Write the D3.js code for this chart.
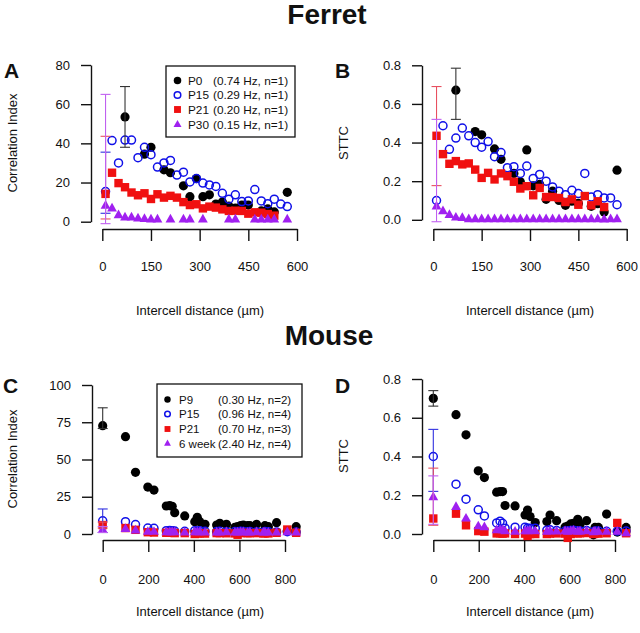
<!DOCTYPE html>
<html>
<head>
<meta charset="utf-8">
<script src="https://cdn.jsdelivr.net/npm/d3@7"></script>
<style>
  body { margin: 0; background: #fff; }
  svg text { font-family: "Liberation Sans", Arial, Helvetica, sans-serif; fill: #111; }
</style>
</head>
<body>
<svg width="640" height="633"></svg>
<script>
// ---- Data ----
var ferretDist = [10, 30, 50, 70, 90, 110, 130, 150, 170, 190, 210, 230, 250, 270, 290,
                  310, 330, 350, 370, 390, 410, 430, 450, 470, 490, 510, 530, 550, 570];
var ferretGroups = ["P0", "P15", "P21", "P30"];
var ferretInfo = ["(0.74 Hz, n=1)", "(0.29 Hz, n=1)", "(0.20 Hz, n=1)", "(0.15 Hz, n=1)"];

// panel A: correlation index
var ferretCI_P0  = [null, null, null, 53.5, null, null, 34.5, 38, null, 26.5, 25, null, 18.3, 12.8, 22,
                    12.8, 13.7, 9, 10, 8, 7, 8.5, 8.5, null, 5.5, 6.5, 5, null, 15];
var ferretCI_P15 = [15.4, 41.4, 30, 41.7, 41.7, 32.7, 38, 34.2, 27.9, 30, 31.3, 23.8, 25.3, 20.3, 22,
                    19.7, 18.8, 18, 14.5, 11.5, 13.7, 10.3, 10.6, 16.4, 10.6, 9.2, 11.5, 9, 7.7];
var ferretCI_P21 = [14.2, 25, 19.7, 17.6, 14.9, 13.5, 14.5, 11.6, 14, 12.3, 13.2, 12.3, 10, 8.5, 8.9,
                    6.8, 7.7, 7.2, 6.3, 5.5, 5.6, 5.5, 4.1, 4.8, 4.6, 3.9, 3.1, null, null];
var ferretCI_P30 = [8.2, 6.8, 3.4, 2.2, 2.2, 1.7, 1.4, 1.2, 1.2, null, 1.2, null, 1.2, 1.2, null,
                    1.2, null, null, null, 1.2, 1.2, null, null, 1.2, 1.2, 1.2, 1.2, null, 1.2];

// panel B: STTC
var ferretSTTC_P0  = [null, null, null, 0.671, null, null, 0.457, 0.44, null, 0.367, 0.313, null, 0.24, 0.197, 0.362,
                      0.176, 0.183, 0.106, 0.148, 0.1, 0.075, 0.096, 0.085, null, 0.07, 0.083, 0.04, null, 0.257];
var ferretSTTC_P15 = [0.10, 0.487, 0.365, 0.423, 0.475, 0.435, 0.40, 0.376, 0.405, 0.327, 0.348, 0.27, 0.275, 0.24, 0.278,
                      0.214, 0.235, 0.2, 0.17, 0.148, 0.13, 0.153, 0.136, 0.24, 0.118, 0.13, 0.113, 0.113, 0.078];
var ferretSTTC_P21 = [0.435, 0.34, 0.29, 0.304, 0.287, 0.292, 0.26, 0.217, 0.243, 0.209, 0.24, 0.226, 0.197, 0.162, 0.174,
                      0.127, 0.165, 0.118, 0.118, 0.113, 0.092, 0.106, 0.078, 0.123, 0.075, 0.096, 0.066, null, null];
var ferretSTTC_P30 = [0.07, 0.045, 0.025, 0.012, 0.01, 0.004, 0.003, 0.003, 0.003, 0.003, 0.003, 0.003, 0.003, 0.003, 0.003,
                      0.003, 0.003, 0.003, 0.003, 0.003, 0.003, 0.003, 0.003, 0.003, 0.003, 0.003, 0.002, 0.003, 0.003];

var mouseDist = [0, 100, 144, 198, 225, 279, 294, 305, 316, 360, 404, 415, 426, 449, 500,
                 514, 543, 580, 592, 605, 617, 636, 646, 675, 705, 712, 727, 763, 810, 849];
var mouseGroups = ["P9", "P15", "P21", "6 week"];
var mouseInfo = ["(0.30 Hz, n=2)", "(0.96 Hz, n=4)", "(0.70 Hz, n=3)", "(2.40 Hz, n=4)"];

// panel C: correlation index
var mouseCI_P9  = [72.7, 65.3, 41.4, 31.5, 29.5, 18.8, 19.0, 18.6, 14.3, 12.1, 8.3, 11.2, 8.3, 6.5, 6.0,
                   7.2, 6.5, 4.5, 5.0, 5.6, 6.0, 5.6, 5.6, 6.5, 1.5, 5.6, 4.9, 7.6, 2.0, 4.9];
var mouseCI_P15 = [8.9, 8.3, 6.3, 4.0, 3.8, 2.2, 2.4, 2.2, 2.0, 1.8, 2.2, 2.0, 2.2, 1.8, 1.6,
                   1.8, 1.5, 1.6, 1.4, 1.8, 1.6, 1.5, 1.7, 1.5, 1.2, 1.6, 1.5, 1.4, 1.5, 1.3];
var mouseCI_P21 = [6.0, 4.0, 2.8, 1.2, 1.0, 0.8, 0.8, 0.8, 0.6, 0.6, 0.0, 0.3, 0.5, 0.3, 0.6,
                   0.6, 0.5, 0.4, -0.5, 0.6, 0.8, 0.5, 0.6, 0.6, 0.4, 0.5, 0.4, 0.8, 3.0, 0.8];
var mouseCI_6wk = [3.0, 3.5, 2.5, 1.5, 1.5, 1.2, 1.2, 1.3, 1.2, 1.0, 1.2, 1.3, 1.2, 1.0, 1.1,
                   1.0, 1.2, 1.0, 1.1, 1.3, 1.2, 1.0, 1.1, 1.2, 1.0, 1.1, 1.0, 1.0, 1.2, 1.0];

// panel D: STTC
var mouseSTTC_P9  = [0.70, 0.616, 0.512, 0.326, 0.291, 0.216, 0.219, 0.219, 0.147, 0.145, 0.098, 0.124, 0.09, 0.059, 0.064,
                     0.098, 0.069, 0.035, 0.041, 0.052, 0.055, 0.076, 0.05, 0.069, -0.004, 0.034, 0.034, 0.103, 0.01, 0.034];
var mouseSTTC_P15 = [0.40, 0.257, 0.18, 0.125, 0.093, 0.057, 0.066, 0.055, 0.03, 0.035, 0.035, 0.03, 0.03, 0.03, 0.02,
                     0.022, 0.018, 0.015, 0.016, 0.018, 0.02, 0.017, 0.016, 0.018, 0.012, 0.015, 0.016, 0.014, 0.015, 0.015];
var mouseSTTC_P21 = [0.08, 0.105, 0.045, 0.015, 0.012, 0.003, 0.004, 0.002, 0.003, 0.0, 0.002, -0.01, 0.0, 0.0, 0.0,
                     0.002, 0.003, 0.002, -0.02, 0.0, 0.005, 0.003, 0.004, 0.005, 0.0, 0.003, 0.002, 0.004, 0.057, 0.004];
var mouseSTTC_6wk = [0.19, 0.14, 0.08, 0.04, 0.035, 0.02, 0.022, 0.02, 0.015, 0.012, 0.015, 0.015, 0.018, 0.015, 0.012,
                     0.015, 0.013, 0.015, 0.012, 0.015, 0.018, 0.012, 0.014, 0.015, 0.01, 0.012, 0.012, 0.012, 0.012, 0.005];

// error bars: group index, distance, low, high
var errA = [[0, 70, 38, 69], [1, 10, 4.3, 35.5], [2, 10, 1.4, 43.6], [3, 10, -1, 65]];
var errB = [[0, 70, 0.52, 0.785], [2, 10, 0.177, 0.69], [3, 10, -0.01, 0.52]];
var errC = [[0, 0, 70.8, 84.7], [1, 0, 1, 16.8], [2, 0, 4, 8], [3, 0, 1, 5]];
var errD = [[0, 0, 0.66, 0.74], [1, 0, 0.22, 0.54], [2, 0, 0.045, 0.34], [3, 0, 0.05, 0.30]];

var ferretTicksX = [0, 150, 300, 450, 600];
var mouseTicksX = [0, 200, 400, 600, 800];
var ciTicksA = [0, 20, 40, 60, 80];
var ciTicksC = [0, 25, 50, 75, 100];
var sttcTicks = [0, 0.2, 0.4, 0.6, 0.8];

// ---- Styling ----
var colors = ["#000000", "#1010e8", "#f01010", "#a020f0"];
var errColors = ["#333333", "#3030e0", "#e85060", "#c060f0"];
var shapes = ["dot", "ring", "square", "tri"];

var svg = d3.select("svg");

// Titles
svg.append("text").attr("x", 327).attr("y", 24).attr("text-anchor", "middle")
    .attr("font-size", 28).attr("font-weight", "bold").text("Ferret");
svg.append("text").attr("x", 329).attr("y", 345).attr("text-anchor", "middle")
    .attr("font-size", 28).attr("font-weight", "bold").text("Mouse");

function mark(g, type, cx, cy, s, color) {
  if (type == "dot") {
    g.append("circle").attr("cx", cx).attr("cy", cy).attr("r", 4.6 * s).attr("fill", color);
  } else if (type == "ring") {
    g.append("circle").attr("cx", cx).attr("cy", cy).attr("r", 4.0 * s)
        .attr("fill", "none").attr("stroke", color).attr("stroke-width", 1.5);
  } else if (type == "square") {
    var h = 4.2 * s;
    g.append("rect").attr("x", cx - h).attr("y", cy - h).attr("width", 2 * h).attr("height", 2 * h)
        .attr("fill", color);
  } else {
    var t = s;
    g.append("path")
        .attr("d", "M" + cx + "," + (cy - 5.6 * t) + "L" + (cx + 4.9 * t) + "," + (cy + 3.1 * t) +
                   "L" + (cx - 4.9 * t) + "," + (cy + 3.1 * t) + "Z")
        .attr("fill", color);
  }
}

function drawPanel(p) {
  var x = d3.scaleLinear().domain([p.xTicks[0], p.xTicks[p.xTicks.length - 1]]).range(p.xRange);
  var y = d3.scaleLinear().domain([p.yTicks[0], p.yTicks[p.yTicks.length - 1]]).range(p.yRange);
  var g = svg.append("g");

  // y axis
  var ya = g.append("g").attr("transform", "translate(" + p.yAxisX + ",0)")
      .call(d3.axisLeft(y).tickValues(p.yTicks).tickSize(10).tickPadding(11).tickSizeOuter(0)
          .tickFormat(p.yFormat));
  // x axis
  var xa = g.append("g").attr("transform", "translate(0," + p.xAxisY + ")")
      .call(d3.axisBottom(x).tickValues(p.xTicks).tickSize(12).tickPadding(p.xPad).tickSizeOuter(0));
  [ya, xa].forEach(function(a) {
    a.attr("font-family", null).attr("font-size", 13);
    a.selectAll("path, line").attr("stroke", "#111").attr("stroke-width", 1.4);
    a.selectAll("text").attr("fill", "#111");
  });

  // points, drawn group by group
  p.series.forEach(function(vals, i) {
    var pts = p.dist.map(function(d, j) { return { x: d, y: vals[j] }; })
        .filter(function(d) { return d.y != null; });
    var sg = g.append("g");
    pts.forEach(function(d) { mark(sg, shapes[i], x(d.x), y(d.y), 1, colors[i]); });
  });

  // error bars
  p.errs.forEach(function(e) {
    var ex = x(e[1]), c = errColors[e[0]];
    var eg = g.append("g").attr("stroke", c).attr("stroke-width", 1.1);
    eg.append("line").attr("x1", ex).attr("x2", ex).attr("y1", y(e[2])).attr("y2", y(e[3]));
    eg.append("line").attr("x1", ex - 5).attr("x2", ex + 5).attr("y1", y(e[2])).attr("y2", y(e[2]));
    eg.append("line").attr("x1", ex - 5).attr("x2", ex + 5).attr("y1", y(e[3])).attr("y2", y(e[3]));
  });

  // labels
  g.append("text").attr("x", p.letter[0]).attr("y", p.letter[1])
      .attr("font-size", 21).attr("font-weight", "bold").text(p.letter[2]);
  g.append("text").attr("transform", "translate(" + p.yTitle[0] + "," + p.yTitle[1] + ") rotate(-90)")
      .attr("text-anchor", "middle").attr("font-size", 13).text(p.yTitle[2]);
  g.append("text").attr("x", p.xTitle[0]).attr("y", p.xTitle[1])
      .attr("text-anchor", "middle").attr("font-size", 13).text("Intercell distance (\u00b5m)");

  // legend
  if (p.legend) {
    var L = p.legend;
    var lg = g.append("g");
    lg.append("rect").attr("x", L.x).attr("y", L.y).attr("width", L.w).attr("height", L.h)
        .attr("fill", "#fff").attr("stroke", "#111").attr("stroke-width", 1.3);
    L.names.forEach(function(n, i) {
      var ry = L.rows[i];
      mark(lg, shapes[i], L.mx, ry, L.ms, colors[i]);
      lg.append("text").attr("x", L.nx).attr("y", ry).attr("dy", "0.36em")
          .attr("font-size", L.fs).text(n);
      lg.append("text").attr("x", L.ix).attr("y", ry).attr("dy", "0.36em")
          .attr("font-size", L.fs).text(L.info[i]);
    });
  }
}

var fmt1 = d3.format(".1f");

drawPanel({
  dist: ferretDist, series: [ferretCI_P0, ferretCI_P15, ferretCI_P21, ferretCI_P30], errs: errA,
  xTicks: ferretTicksX, yTicks: ciTicksA, yFormat: d3.format("d"),
  xRange: [102.3, 297], yRange: [221.7, 65], yAxisX: 91, xAxisY: 229, xPad: 21,
  letter: [4, 78, "A"], yTitle: [17, 143, "Correlation Index"], xTitle: [200, 315],
  legend: { x: 166, y: 66, w: 129, h: 71, rows: [80.5, 95, 109.5, 124.5], mx: 177.5, nx: 188, ix: 213,
            ms: 0.82, fs: 11.8, names: ferretGroups, info: ferretInfo }
});

drawPanel({
  dist: ferretDist, series: [ferretSTTC_P0, ferretSTTC_P15, ferretSTTC_P21, ferretSTTC_P30], errs: errB,
  xTicks: ferretTicksX, yTicks: sttcTicks, yFormat: fmt1,
  xRange: [433.3, 626.7], yRange: [219.8, 65.3], yAxisX: 422, xAxisY: 229, xPad: 21,
  letter: [335, 78, "B"], yTitle: [348, 143, "STTC"], xTitle: [530, 315]
});

drawPanel({
  dist: mouseDist, series: [mouseCI_P9, mouseCI_P15, mouseCI_P21, mouseCI_6wk], errs: errC,
  xTicks: mouseTicksX, yTicks: ciTicksC, yFormat: d3.format("d"),
  xRange: [102.7, 285], yRange: [534, 385], yAxisX: 92, xAxisY: 540, xPad: 23,
  letter: [3, 393, "C"], yTitle: [17, 459, "Correlation Index"], xTitle: [200, 616],
  legend: { x: 157, y: 384, w: 145, h: 73, rows: [399.5, 414, 429, 443.5], mx: 167.5, nx: 179, ix: 218,
            ms: 0.7, fs: 11.5, names: mouseGroups, info: mouseInfo }
});

drawPanel({
  dist: mouseDist, series: [mouseSTTC_P9, mouseSTTC_P15, mouseSTTC_P21, mouseSTTC_6wk], errs: errD,
  xTicks: mouseTicksX, yTicks: sttcTicks, yFormat: fmt1,
  xRange: [433.3, 615], yRange: [534, 379], yAxisX: 422, xAxisY: 540, xPad: 23,
  letter: [335, 393, "D"], yTitle: [348, 456, "STTC"], xTitle: [530, 616]
});
</script>
</body>
</html>
